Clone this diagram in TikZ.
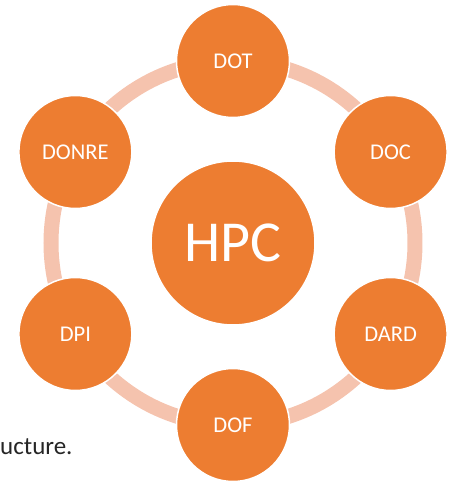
\documentclass[tikz,border=0pt]{standalone}
\usepackage{fontspec}
\setmainfont{Carlito}
\usepackage{tikz}
\usetikzlibrary{calc, positioning, backgrounds}

\definecolor{hcorange}{HTML}{ED7D31}
\definecolor{hcring}{HTML}{F5C3AE}
\definecolor{hctext}{HTML}{262626}

\begin{document}
\begin{tikzpicture}[x=1pt, y=1pt,
					hub/.style={circle, fill=hcorange, draw=white, line width=1.5pt,
						minimum size=164pt, inner sep=0pt, text=white,
						font=\fontsize{58}{64}\selectfont},
					unit/.style={circle, fill=hcorange, draw=white, line width=1.5pt,
						minimum size=113pt, inner sep=0pt, text=white,
						font=\fontsize{22.5}{27}\selectfont},
					ring/.style={draw=hcring, line width=15pt}]

\useasboundingbox (-233,-240) rectangle (219,243);

\node[hub] (hpc) at (0,0) {HPC};

% the outer ring sits behind the six units
\draw[ring] (hpc.center) circle (182);

\node[unit] (dot)   at (90:182)  {DOT};
\node[unit] (doc)   at (30:182)  {DOC};
\node[unit] (dard)  at (-30:182) {DARD};
\node[unit] (dof)   at (-90:182) {DOF};
\node[unit] (dpi)   at (210:182) {DPI};
\node[unit] (donre) at (150:182) {DONRE};

\node[anchor=base west, inner sep=0pt, text=hctext,
	font=\fontsize{25}{30}\selectfont] (tail) at (-233,-211) {ucture.};
\end{tikzpicture}
\end{document}
